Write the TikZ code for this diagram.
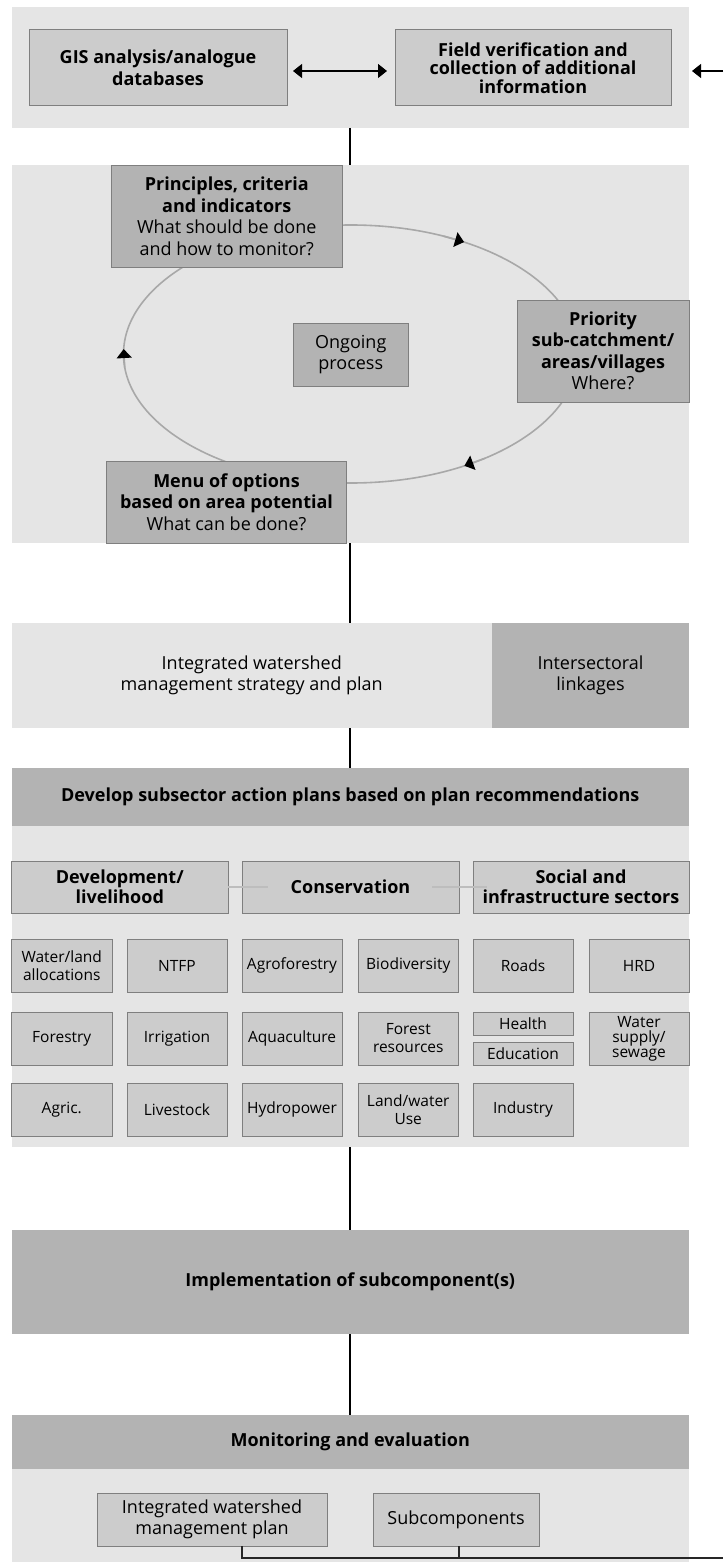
\documentclass[tikz,border=0pt]{standalone}
\usepackage{fontspec}
\setmainfont{Open Sans}
\usetikzlibrary{arrows.meta,calc}

\definecolor{panelbg}{HTML}{E5E5E5}
\definecolor{boxlight}{HTML}{CCCCCC}
\definecolor{boxdark}{HTML}{B3B3B3}
\definecolor{edge}{HTML}{7F7F7F}
\definecolor{ringgray}{HTML}{A8A8A8}
\definecolor{linkgray}{HTML}{BDBDBD}

% node from corner coordinates: name, x1, y1, x2, y2, style, text
\newcommand\rbox[7]{%
  \node[#6, minimum width={(#4-#2)*1pt}, minimum height={(#5-#3)*1pt}]
    (#1) at ({(#2+#4)/2},{(#3+#5)/2}) {#7};}

\begin{document}
\begin{tikzpicture}[x=1pt, y=-1pt,
  every node/.style={inner sep=0pt, outer sep=0pt, align=center,
    font=\fontsize{18}{21.5}\selectfont},
  panel/.style={fill=panelbg, draw=none},
  bar/.style={fill=boxdark, draw=none},
  lbox/.style={fill=boxlight, draw=edge, line width=1pt},
  dbox/.style={fill=boxdark, draw=edge, line width=1pt},
  cell/.style={lbox, font=\fontsize{15.5}{18}\selectfont},
  flow/.style={line width=2pt, black},
  ring/.style={draw=ringgray, line width=1.6pt},
  ringtip/.style={ring, -{Triangle[length=9pt, width=15pt, color=black]}},
  link/.style={draw=linkgray, line width=2.5pt}
]
\useasboundingbox (0,0) rectangle (723,1562);

% ---- data sources ----
\rbox{src}{11.5}{7}{689}{128}{panel}{}
\rbox{gis}{29}{30}{287}{106}{lbox}{\bfseries GIS analysis/analogue\\\bfseries databases}
\rbox{field}{395}{30}{671}{106}{lbox, font=\fontsize{18}{18.5}\selectfont}{\bfseries Field verification and\\\bfseries collection of additional\\\bfseries information}
\draw[line width=1.2pt, {Triangle[length=9pt, width=14pt]}-{Triangle[length=9pt, width=14pt]}]
  ([xshift=6pt, yshift=-3pt]gis.east) -- ([xshift=-8pt, yshift=-3pt]field.west);
\coordinate (feedin) at (723,71);
\draw[line width=1.2pt, -{Triangle[length=9pt, width=14pt]}] (feedin) -- ([xshift=3pt]feedin -| src.east);

% ---- planning cycle ----
\rbox{cycle}{11.5}{165}{689}{543}{panel}{}
\coordinate (ctr) at (351,354);
\draw[ring] (ctr) ellipse [x radius=227.5pt, y radius=129pt];
\rbox{pci}{111.5}{166}{342}{267}{dbox}{\bfseries Principles, criteria\\\bfseries and indicators\\What should be done\\and how to monitor?}
\rbox{ongo}{293.5}{323}{408}{386}{dbox}{Ongoing\\process}
\rbox{prio}{517}{300}{689}{402}{dbox}{\bfseries Priority\\\bfseries sub-catchment/\\\bfseries areas/villages\\Where?}
\rbox{menu}{106.5}{461}{346.5}{543}{dbox}{\bfseries Menu of options\\\bfseries based on area potential\\What can be done?}
\draw[ringtip] ($(ctr)+(-66:227.5 and 129)$) -- ($(ctr)+(-60.2:227.5 and 129)$);
\draw[ringtip] ($(ctr)+(54:227.5 and 129)$) -- ($(ctr)+(60.1:227.5 and 129)$);
\draw[ringtip] ($(ctr)+(174:227.5 and 129)$) -- ($(ctr)+(182.2:227.5 and 129)$);

% ---- strategy ----
\rbox{band}{11.5}{623}{689}{728}{panel}{}
\rbox{strat}{11.5}{623}{492}{728}{panel}{Integrated watershed\\management strategy and plan}
\rbox{inter}{492}{623}{689}{728}{bar}{Intersectoral\\linkages}

% ---- subsector action plans ----
\rbox{devbar}{11.5}{768}{689}{826}{bar}{\bfseries Develop subsector action plans based on plan recommendations}
\rbox{sect}{11.5}{826}{689}{1147}{panel}{}
\rbox{devl}{11.5}{861}{228}{913}{lbox, font=\fontsize{18}{20}\selectfont}{\bfseries Development/\\\bfseries livelihood}
\rbox{cons}{242}{861}{459}{913}{lbox}{\bfseries Conservation}
\rbox{soc}{473}{861}{689}{913}{lbox, font=\fontsize{18}{20}\selectfont}{\bfseries Social and\\\bfseries infrastructure sectors}
\draw[link] (devl.east) -- ++(40,0);
\draw[link] ([xshift=-27pt]cons.east) -- ++(55,0);

\rbox{wla}{11.5}{939}{112}{992}{cell}{Water/land\\allocations}
\rbox{ntfp}{127}{939}{227}{992}{cell}{NTFP}
\rbox{agro}{242}{939}{342}{992}{cell}{Agroforestry}
\rbox{bio}{358}{939}{458.5}{992}{cell}{Biodiversity}
\rbox{road}{473}{939}{573}{992}{cell}{Roads}
\rbox{hrd}{589}{939}{689}{992}{cell}{HRD}

\rbox{fory}{11.5}{1012}{112}{1065}{cell}{Forestry}
\rbox{irr}{127}{1012}{227}{1065}{cell}{Irrigation}
\rbox{aqua}{242}{1012}{342}{1065}{cell}{Aquaculture}
\rbox{fres}{358}{1012}{458.5}{1065}{cell}{Forest\\resources}
\rbox{hlth}{473}{1012}{573}{1035}{cell}{Health}
\rbox{edu}{473}{1042}{573}{1065}{cell}{Education}
\rbox{wss}{589}{1012}{689}{1065}{cell, font=\fontsize{15.5}{15}\selectfont}{Water\\supply/\\sewage}

\rbox{agr}{11.5}{1083}{112}{1136}{cell}{Agric.}
\rbox{live}{127}{1083}{227}{1136}{cell}{Livestock}
\rbox{hydro}{242}{1083}{342}{1136}{cell}{Hydropower}
\rbox{luse}{358}{1083}{458.5}{1136}{cell}{Land/water\\Use}
\rbox{ind}{473}{1083}{573}{1136}{cell}{Industry}

% ---- implementation and monitoring ----
\rbox{impl}{11.5}{1230}{689}{1334}{bar}{\bfseries Implementation of subcomponent(s)}
\rbox{mon}{11.5}{1415}{689}{1469}{bar}{\bfseries Monitoring and evaluation}
\rbox{monp}{11.5}{1469}{689}{1562}{panel}{}
\rbox{iwmp}{97}{1493}{327}{1546}{lbox}{Integrated watershed\\management plan}
\rbox{subc}{373}{1493}{539}{1546}{lbox}{Subcomponents}
\coordinate (feedout) at (723,1558);
\draw[line width=1.5pt, black!85] ([xshift=30pt]iwmp.south) |- (feedout);
\draw[line width=1.5pt, black!85] ([xshift=3pt]subc.south) -- ([xshift=3pt]subc.south |- feedout);

% ---- main flow ----
\draw[flow] (src.south) -- (cycle.north);
\draw[flow] (cycle.south) -- (band.north);
\draw[flow] (band.south) -- (devbar.north);
\draw[flow] (sect.south) -- (impl.north);
\draw[flow] (impl.south) -- (mon.north);
\end{tikzpicture}
\end{document}
